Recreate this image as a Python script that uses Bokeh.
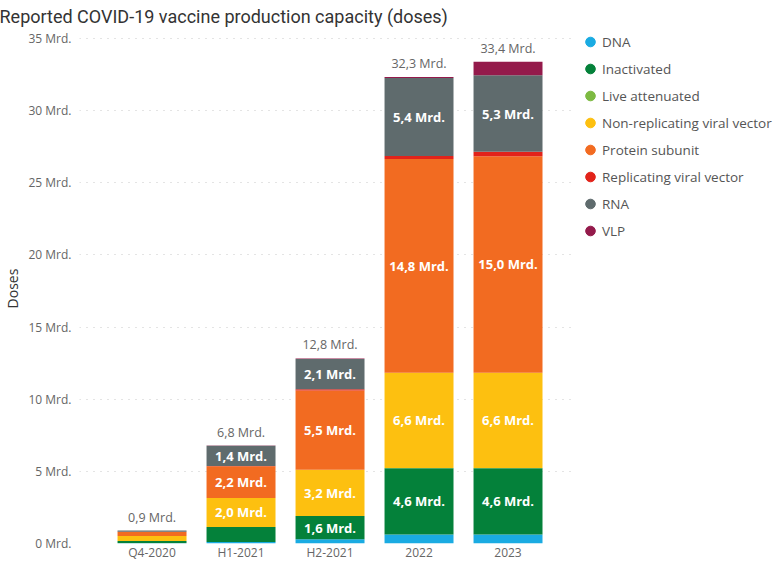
from bokeh.plotting import figure
from bokeh.models import ColumnDataSource, Legend, LegendItem, FixedTicker, Range1d
from bokeh.core.properties import value
from bokeh.embed import file_html
from bokeh.resources import INLINE

categories = ["Q4-2020", "H1-2021", "H2-2021", "2022", "2023"]
types = ["DNA", "Inactivated", "Live attenuated", "Non-replicating viral vector",
         "Protein subunit", "Replicating viral vector", "RNA", "VLP"]
colors = ["#1AABE2", "#04813A", "#7DBA42", "#FDC010", "#F26B21", "#E2231A", "#5F6B6D", "#941A4B"]

dna = [0.02, 0.10, 0.30, 0.62, 0.62]
inactivated = [0.15, 1.05, 1.60, 4.60, 4.60]
live_attenuated = [0.0, 0.0, 0.01, 0.02, 0.02]
non_replicating = [0.35, 2.00, 3.20, 6.60, 6.60]
protein_subunit = [0.28, 2.20, 5.50, 14.80, 15.00]
replicating = [0.02, 0.02, 0.08, 0.22, 0.30]
rna = [0.08, 1.40, 2.10, 5.40, 5.30]
vlp = [0.0, 0.02, 0.03, 0.06, 0.95]
y_ticks = [0, 5, 10, 15, 20, 25, 30, 35]

series = [dna, inactivated, live_attenuated, non_replicating, protein_subunit, replicating, rna, vlp]
keys = ["s%d" % i for i in range(len(series))]

FONT = "Open Sans"

xs = list(range(len(categories)))
data = {"x": xs}
for k, s in zip(keys, series):
    data[k] = s
src = ColumnDataSource(data)

p = figure(frame_width=495, frame_height=510, output_backend="svg", toolbar_location=None,
           x_range=Range1d(-0.815, 4.747), y_range=Range1d(0, 35.34),
           min_border_left=72, min_border_right=200, min_border_bottom=24, min_border_top=25)

renderers = p.vbar_stack(keys, x="x", width=0.775, source=src, color=colors, line_color=None)

# inner labels
lx, ly, lt = [], [], []
tx, ty, tt = [], [], []
for i in xs:
    base = 0.0
    for s in series:
        v = s[i]
        if v >= 1.3:
            lx.append(i); ly.append(base + v / 2); lt.append(("%.1f" % v).replace(".", ",") + " Mrd.")
        base += v
    tx.append(i); ty.append(base); tt.append(("%.1f" % base).replace(".", ",") + " Mrd.")

p.text(x=lx, y=ly, text=lt, text_align="center", text_baseline="middle", text_color="white",
       text_font=value(FONT), text_font_size="13px", text_font_style="bold")
p.text(x=tx, y=ty, text=tt, text_align="center", text_baseline="bottom", y_offset=-5,
       text_color="#666666", text_font=value(FONT), text_font_size="12.5px")

# legend with circle markers
items = []
for t, c in zip(types, colors):
    r = p.scatter(x=[float("nan")], y=[float("nan")], marker="circle", size=10, color=c)
    items.append(LegendItem(label=t, renderers=[r]))
legend = Legend(items=items, location=(4, 299), orientation="vertical",
                glyph_width=24, glyph_height=27, label_height=20, spacing=0, padding=0,
                margin=0, label_standoff=0, border_line_color=None, background_fill_alpha=0,
                label_text_font=FONT, label_text_font_size="13.5px", label_text_color="#555555")
p.add_layout(legend, "right")

p.title.text = "Reported COVID-19 vaccine production capacity (doses)"
p.title.text_font = "Roboto"
p.title.text_font_size = "18px"
p.title.text_font_style = "normal"
p.title.text_color = "#333333"
p.title.offset = -80
p.title.standoff = 10
p.title.vertical_align = "top"

p.xaxis.ticker = FixedTicker(ticks=xs)
p.xaxis.major_label_overrides = {i: c for i, c in zip(xs, categories)}
p.yaxis.ticker = FixedTicker(ticks=y_ticks)
p.yaxis.major_label_overrides = {t: "%d Mrd." % t for t in y_ticks}
for ax in (p.xaxis, p.yaxis):
    ax.axis_line_color = None
    ax.major_tick_line_color = None
    ax.minor_tick_line_color = None
    ax.major_tick_out = 0
    ax.major_tick_in = 0
    ax.minor_tick_out = 0
    ax.major_label_text_font = FONT
    ax.major_label_text_font_size = "12px"
    ax.major_label_text_color = "#666666"
p.xaxis.major_label_standoff = 0
p.yaxis.major_label_standoff = 8
p.yaxis.axis_label = "Doses"
p.yaxis.axis_label_text_font = FONT
p.yaxis.axis_label_text_font_size = "14px"
p.yaxis.axis_label_text_font_style = "normal"
p.yaxis.axis_label_text_color = "#333333"
p.yaxis.axis_label_standoff = 3

p.xgrid.grid_line_color = None
p.ygrid.grid_line_color = "#C8C8C8"
p.ygrid.grid_line_dash = "1 6"
p.outline_line_color = None

open("out.html", "w").write(file_html(p, INLINE))
